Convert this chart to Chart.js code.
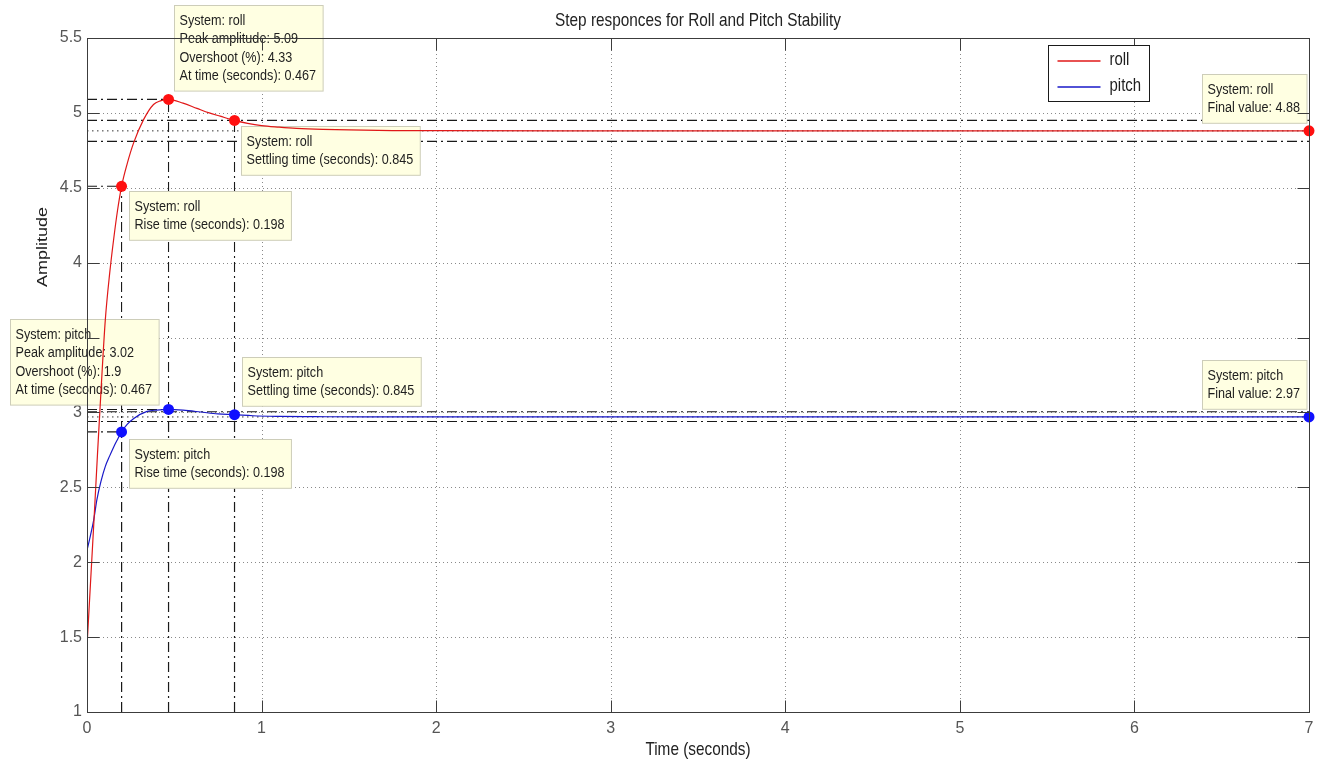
<!DOCTYPE html>
<html>
<head>
<meta charset="utf-8">
<script src="https://cdn.jsdelivr.net/npm/chart.js@4.4.1/dist/chart.umd.min.js"></script>
<style>
  html, body { margin: 0; padding: 0; background: #ffffff; }
  canvas { display: block; }
</style>
</head>
<body>
<canvas id="stepChart" width="1325" height="765"></canvas>
<script>
// ---- step response samples ----
const rollTime = [0, 0.02, 0.04, 0.06, 0.08, 0.105, 0.13, 0.152, 0.175, 0.198, 0.23, 0.267, 0.324, 0.381, 0.42, 0.467, 0.55, 0.63, 0.7, 0.763, 0.845, 0.92, 1.0, 1.1, 1.2, 1.35, 1.5, 1.75, 2, 3, 4, 5, 6, 7];
const rollAmplitude = [1.44, 1.86, 2.28, 2.72, 3.14, 3.62, 3.93, 4.15, 4.35, 4.51, 4.66, 4.80, 4.955, 5.056, 5.08, 5.09, 5.065, 5.03, 5.0, 4.978, 4.95, 4.93, 4.915, 4.905, 4.897, 4.89, 4.886, 4.882, 4.881, 4.88, 4.88, 4.88, 4.88, 4.88];

const pitchTime = [0, 0.02, 0.038, 0.057, 0.08, 0.105, 0.13, 0.153, 0.175, 0.198, 0.23, 0.268, 0.344, 0.4, 0.467, 0.55, 0.65, 0.75, 0.845, 0.95, 1.1, 1.3, 1.6, 2, 3, 4, 5, 6, 7];
const pitchAmplitude = [2.08, 2.18, 2.28, 2.42, 2.54, 2.64, 2.71, 2.77, 2.82, 2.87, 2.92, 2.96, 3.007, 3.016, 3.02, 3.015, 3.003, 2.99, 2.985, 2.978, 2.974, 2.972, 2.97, 2.97, 2.97, 2.97, 2.97, 2.97, 2.97];

// ---- characteristic points: rise, peak, settling, final ----
const rollMarkTime = [0.198, 0.467, 0.845, 7];
const rollMarkValue = [4.51, 5.09, 4.95, 4.88];
const pitchMarkTime = [0.198, 0.467, 0.845, 7];
const pitchMarkValue = [2.87, 3.02, 2.985, 2.97];

// ---- settling bands (lower, upper) ----
const rollBand = [4.81, 4.95];
const pitchBand = [2.94, 3.005];

// ---- axes ----
const xTicks = [0, 1, 2, 3, 4, 5, 6, 7];
const yTicks = [1, 1.5, 2, 2.5, 3, 3.5, 4, 4.5, 5, 5.5];

// ---- data tip texts (rise, peak, settling, final) ----
const rollTipText = [
  ['System: roll', 'Rise time (seconds): 0.198'],
  ['System: roll', 'Peak amplitude: 5.09', 'Overshoot (%): 4.33', 'At time (seconds): 0.467'],
  ['System: roll', 'Settling time (seconds): 0.845'],
  ['System: roll', 'Final value: 4.88']
];
const pitchTipText = [
  ['System: pitch', 'Rise time (seconds): 0.198'],
  ['System: pitch', 'Peak amplitude: 3.02', 'Overshoot (%): 1.9', 'At time (seconds): 0.467'],
  ['System: pitch', 'Settling time (seconds): 0.845'],
  ['System: pitch', 'Final value: 2.97']
];

// tip box offsets from their anchor point, in pixels
const rollTipOffset = [[7, 5], [5, -94], [6, 6], [-107, -57]];
const pitchTipOffset = [[7, 7], [-159, -90], [7, -58], [-107, -57]];

const ROLL_COLOR = '#e01818';
const PITCH_COLOR = '#1818c8';
const FONT = '"Liberation Sans", Arial, Helvetica, sans-serif';
const SQUEEZE = 0.83;

const xMin = xTicks[0], xMax = xTicks[xTicks.length - 1];
const yMin = yTicks[0];

function pts(xs, ys) { return xs.map((x, i) => ({ x: x, y: ys[i] })); }

// dash-dot guide segments for one system
function guideSegments(markT, markV, band) {
  const out = [];
  const gap = (x) => out.push({ x: x, y: null });
  // rise and peak: horizontal from the left edge, vertical from the bottom
  for (const k of [0, 1]) {
    out.push({ x: xMin, y: markV[k] }, { x: markT[k], y: markV[k] }); gap(markT[k]);
    out.push({ x: markT[k], y: yMin }, { x: markT[k], y: markV[k] }); gap(markT[k]);
  }
  // settling: band limits across the plot and a vertical at the settling time
  for (const b of band) {
    out.push({ x: xMin, y: b }, { x: xMax, y: b }); gap(xMax);
  }
  out.push({ x: markT[2], y: yMin }, { x: markT[2], y: markV[2] });
  return out;
}

function finalLine(v) { return [{ x: xMin, y: v }, { x: xMax, y: v }]; }

function squeezedText(ctx, str, x, y, px, align, color) {
  ctx.save();
  ctx.font = px + 'px ' + FONT;
  ctx.fillStyle = color;
  ctx.textBaseline = 'middle';
  ctx.textAlign = align;
  ctx.translate(x, y);
  ctx.scale(SQUEEZE, 1);
  ctx.fillText(str, 0, 0);
  ctx.restore();
}
function squeezedWidth(ctx, str, px) {
  ctx.save();
  ctx.font = px + 'px ' + FONT;
  const w = ctx.measureText(str).width * SQUEEZE;
  ctx.restore();
  return w;
}

function drawTip(ctx, px, py, offset, lines) {
  const size = 15.2, lh = 18.4;
  const w = Math.max(...lines.map(s => squeezedWidth(ctx, s, size))) + 12;
  const h = lines.length * lh + 12;
  const x = Math.round(px + offset[0]) + 0.5;
  const y = Math.round(py + offset[1]) + 0.5;
  ctx.save();
  ctx.fillStyle = 'rgb(255,255,226)';
  ctx.strokeStyle = 'rgb(205,205,185)';
  ctx.lineWidth = 1;
  ctx.fillRect(x, y, w, h);
  ctx.strokeRect(x, y, w, h);
  ctx.restore();
  lines.forEach((s, i) => squeezedText(ctx, s, x + 5, y + 6 + lh * (i + 0.5), size, 'left', '#1e1e1e'));
}

const matlabFrame = {
  id: 'matlabFrame',
  beforeDatasetsDraw(chart) {
    const { ctx, chartArea: a, scales } = chart;
    ctx.save();
    ctx.strokeStyle = '#8a8a8a';
    ctx.lineWidth = 1;
    ctx.setLineDash([1, 3]);
    xTicks.slice(1, -1).forEach(v => {
      const x = Math.round(scales.x.getPixelForValue(v)) + 0.5;
      ctx.beginPath(); ctx.moveTo(x, a.top); ctx.lineTo(x, a.bottom); ctx.stroke();
    });
    yTicks.slice(1, -1).forEach(v => {
      const y = Math.round(scales.y.getPixelForValue(v)) + 0.5;
      ctx.beginPath(); ctx.moveTo(a.left, y); ctx.lineTo(a.right, y); ctx.stroke();
    });
    ctx.restore();
    chart.$tipsDrawn = false;
  },
  beforeDatasetDraw(chart, args) {
    if (chart.$tipsDrawn) return;
    const ds = chart.data.datasets[args.index];
    if (ds.label !== 'pitch') return;
    chart.$tipsDrawn = true;
    const { ctx, scales } = chart;
    rollTipText.forEach((lines, k) => drawTip(ctx,
      scales.x.getPixelForValue(rollMarkTime[k]), scales.y.getPixelForValue(rollMarkValue[k]),
      rollTipOffset[k], lines));
    pitchTipText.forEach((lines, k) => drawTip(ctx,
      scales.x.getPixelForValue(pitchMarkTime[k]), scales.y.getPixelForValue(pitchMarkValue[k]),
      pitchTipOffset[k], lines));
  },
  afterDatasetsDraw(chart) {
    const { ctx, chartArea: a, scales } = chart;
    ctx.save();
    ctx.setLineDash([]);
    ctx.strokeStyle = '#3c3c3c';
    ctx.lineWidth = 1;
    const L = Math.round(a.left) + 0.5, R = Math.round(a.right) + 0.5;
    const T = Math.round(a.top) + 0.5, B = Math.round(a.bottom) + 0.5;
    ctx.strokeRect(L, T, R - L, B - T);
    const tick = 12;
    ctx.beginPath();
    xTicks.forEach(v => {
      const x = Math.round(scales.x.getPixelForValue(v)) + 0.5;
      ctx.moveTo(x, B); ctx.lineTo(x, B - tick);
      ctx.moveTo(x, T); ctx.lineTo(x, T + tick);
    });
    yTicks.forEach(v => {
      const y = Math.round(scales.y.getPixelForValue(v)) + 0.5;
      ctx.moveTo(L, y); ctx.lineTo(L + tick, y);
      ctx.moveTo(R, y); ctx.lineTo(R - tick, y);
    });
    ctx.stroke();

    // legend
    const lx = 1048.5, ly = 45.5, lw = 101, lh = 56;
    ctx.fillStyle = '#ffffff';
    ctx.fillRect(lx, ly, lw, lh);
    ctx.strokeStyle = '#1a1a1a';
    ctx.strokeRect(lx, ly, lw, lh);
    const entries = [
      { label: 'roll', color: ROLL_COLOR },
      { label: 'pitch', color: PITCH_COLOR }
    ];
    entries.forEach((d, i) => {
      const y = Math.round(ly + 15.5 + i * 26);
      ctx.strokeStyle = d.color;
      ctx.lineWidth = 1.5;
      ctx.beginPath(); ctx.moveTo(lx + 9, y); ctx.lineTo(lx + 52, y); ctx.stroke();
      squeezedText(ctx, d.label, lx + 61, y - 1, 18, 'left', '#1e1e1e');
    });

    // title and axis labels
    const cx = (a.left + a.right) / 2;
    squeezedText(ctx, 'Step responces for Roll and Pitch Stability', cx, 21, 18.5, 'center', '#222222');
    squeezedText(ctx, 'Time (seconds)', cx, 750, 18.5, 'center', '#222222');
    ctx.save();
    ctx.translate(43, 247);
    ctx.scale(SQUEEZE, 1);
    ctx.rotate(-Math.PI / 2);
    ctx.font = '18px ' + FONT;
    ctx.fillStyle = '#222222';
    ctx.textAlign = 'center';
    ctx.textBaseline = 'middle';
    ctx.fillText('Amplitude', 0, 0);
    ctx.restore();
    ctx.restore();
  }
};

new Chart(document.getElementById('stepChart'), {
  type: 'line',
  data: {
    datasets: [
      { label: 'roll markers', data: pts(rollMarkTime, rollMarkValue), showLine: false, pointRadius: 5.5,
        pointBackgroundColor: '#ff1010', pointBorderColor: '#ff1010', pointBorderWidth: 0, clip: false, order: 0 },
      { label: 'pitch markers', data: pts(pitchMarkTime, pitchMarkValue), showLine: false, pointRadius: 5.5,
        pointBackgroundColor: '#1010ff', pointBorderColor: '#1010ff', pointBorderWidth: 0, clip: false, order: 0 },
      { label: 'roll', data: pts(rollTime, rollAmplitude), borderColor: ROLL_COLOR, borderWidth: 1.2,
        pointRadius: 0, cubicInterpolationMode: 'monotone', order: 1 },
      { label: 'pitch', data: pts(pitchTime, pitchAmplitude), borderColor: PITCH_COLOR, borderWidth: 1.2,
        pointRadius: 0, cubicInterpolationMode: 'monotone', order: 2 },
      { label: 'pitch guides', data: guideSegments(pitchMarkTime, pitchMarkValue, pitchBand), borderColor: '#1a1a1a',
        borderWidth: 1.1, borderDash: [10, 4, 2, 4], pointRadius: 0, spanGaps: false, order: 6 },
      { label: 'roll guides', data: guideSegments(rollMarkTime, rollMarkValue, rollBand), borderColor: '#1a1a1a',
        borderWidth: 1.1, borderDash: [10, 4, 2, 4], pointRadius: 0, spanGaps: false, order: 5 },
      { label: 'roll final', data: finalLine(rollMarkValue[3]), borderColor: '#333333', borderWidth: 1,
        borderDash: [1.5, 3.5], pointRadius: 0, order: 7 },
      { label: 'pitch final', data: finalLine(pitchMarkValue[3]), borderColor: '#333333', borderWidth: 1,
        borderDash: [1.5, 3.5], pointRadius: 0, order: 7 }
    ]
  },
  options: {
    responsive: false,
    animation: false,
    events: [],
    layout: { padding: { left: 0, top: 38, right: 16, bottom: 0 } },
    plugins: { legend: { display: false }, title: { display: false }, tooltip: { enabled: false } },
    scales: {
      x: {
        type: 'linear', min: xMin, max: xMax,
        grid: { display: false, drawTicks: false },
        border: { display: false },
        afterBuildTicks: (s) => { s.ticks = xTicks.map(v => ({ value: v })); },
        afterFit: (s) => { s.height = 53; },
        ticks: { padding: 7, color: '#555555', font: { family: FONT, size: 16 }, maxRotation: 0,
                 callback: (v) => String(v) }
      },
      y: {
        type: 'linear', min: yMin, max: yTicks[yTicks.length - 1],
        grid: { display: false, drawTicks: false },
        border: { display: false },
        afterBuildTicks: (s) => { s.ticks = yTicks.map(v => ({ value: v })); },
        afterFit: (s) => { s.width = 87; },
        ticks: { padding: 5, color: '#555555', font: { family: FONT, size: 16 },
                 callback: (v) => String(v) }
      }
    }
  },
  plugins: [matlabFrame]
});
</script>
</body>
</html>
